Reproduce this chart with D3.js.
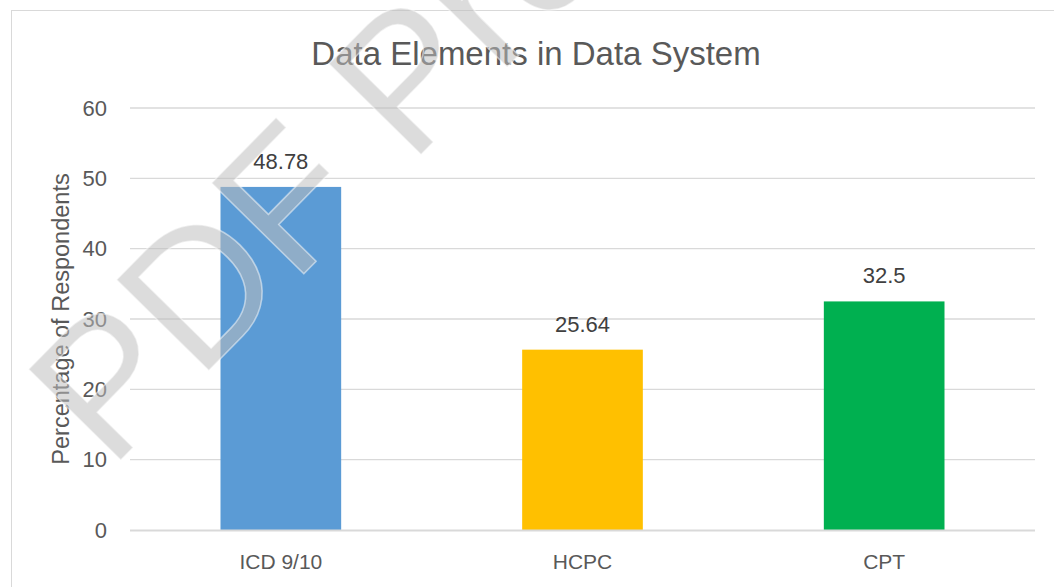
<!DOCTYPE html>
<html>
<head>
<meta charset="utf-8">
<script src="https://cdn.jsdelivr.net/npm/d3@7"></script>
<style>
  body { margin: 0; background: #fff; }
  svg { display: block; font-family: "Liberation Sans", Arial, sans-serif; }
</style>
</head>
<body>
<svg id="chart"></svg>
<script>
// --------------------
//  data
// --------------------
const categories = ['ICD 9/10', 'HCPC', 'CPT'];
const values = [48.78, 25.64, 32.5];
const barColors = ['#5b9bd5', '#ffc000', '#00b050'];
const yTicks = [0, 10, 20, 30, 40, 50, 60];

const chartTitle = 'Data Elements in Data System';
const yTitle = 'Percentage of Respondents';
const watermark = 'PDF Pro';

// --------------------
//  layout
// --------------------
const width = 1054;
const height = 587;
const plot = {left: 130, right: 1035, top: 108, bottom: 530};

const svg = d3.select('#chart')
    .attr('width', width)
    .attr('height', height);

// 外枠
svg.append('rect')
    .attr('x', 11.5)
    .attr('y', 10.5)
    .attr('width', width + 20)
    .attr('height', height + 20)
    .attr('fill', '#fff')
    .attr('stroke', '#d9d9d9')
    .attr('stroke-width', 1);

const x = d3.scaleBand()
    .domain(categories)
    .range([plot.left, plot.right])
    .paddingInner(0.6)
    .paddingOuter(0.3);

const y = d3.scaleLinear()
    .domain([0, 60])
    .range([plot.bottom, plot.top]);

// グリッド線
svg.append('g')
    .selectAll('line')
    .data(yTicks.filter(d => d !== 0))
    .join('line')
    .attr('x1', plot.left)
    .attr('x2', plot.right)
    .attr('y1', d => y(d))
    .attr('y2', d => y(d))
    .attr('stroke', '#d9d9d9')
    .attr('stroke-width', 1.3);

// y軸ラベル
const yAxis = d3.axisLeft(y)
    .tickValues(yTicks)
    .tickSize(0)
    .tickPadding(0);

svg.append('g')
    .attr('transform', `translate(107,0)`)
    .call(yAxis)
    .call(g => g.select('.domain').remove())
    .selectAll('text')
    .attr('font-size', '22px')
    .attr('font-family', '"Liberation Sans", Arial, sans-serif')
    .attr('fill', '#595959');

// 棒
svg.append('g')
    .selectAll('rect')
    .data(values)
    .join('rect')
    .attr('x', (d, i) => x(categories[i]))
    .attr('y', d => y(d))
    .attr('width', x.bandwidth())
    .attr('height', d => y(0) - y(d))
    .attr('fill', (d, i) => barColors[i]);

// 0の軸線
svg.append('line')
    .attr('x1', plot.left)
    .attr('x2', plot.right)
    .attr('y1', y(0) + 0.5)
    .attr('y2', y(0) + 0.5)
    .attr('stroke', '#d9d9d9')
    .attr('stroke-width', 2);

// x軸ラベル
const xAxis = d3.axisBottom(x).tickSize(0).tickPadding(0);
svg.append('g')
    .attr('transform', `translate(0,${plot.bottom + 24})`)
    .call(xAxis)
    .call(g => g.select('.domain').remove())
    .selectAll('text')
    .attr('font-size', '21px')
    .attr('font-family', '"Liberation Sans", Arial, sans-serif')
    .attr('fill', '#595959');

// 値ラベル
svg.append('g')
    .selectAll('text')
    .data(values)
    .join('text')
    .attr('x', (d, i) => x(categories[i]) + x.bandwidth() / 2)
    .attr('y', d => y(d) - 18)
    .attr('text-anchor', 'middle')
    .attr('font-size', '22px')
    .attr('fill', '#404040')
    .text(d => d);

// タイトル
svg.append('text')
    .attr('x', 536)
    .attr('y', 65)
    .attr('text-anchor', 'middle')
    .attr('font-size', '33px')
    .attr('fill', '#595959')
    .text(chartTitle);

// 縦軸タイトル
svg.append('text')
    .attr('transform', `translate(68.5,${(plot.top + plot.bottom) / 2}) rotate(-90)`)
    .attr('text-anchor', 'middle')
    .attr('font-size', '23.5px')
    .attr('fill', '#595959')
    .text(yTitle);

// 透かし
svg.append('text')
    .attr('transform', 'translate(110,471) rotate(-45.5)')
    .attr('font-size', '188px')
    .attr('fill', 'rgb(189,189,189)')
    .attr('fill-opacity', 0.53)
    .attr('stroke', '#fff')
    .attr('stroke-opacity', 0.5)
    .attr('stroke-width', 1.5)
    .text(watermark);
</script>
</body>
</html>
